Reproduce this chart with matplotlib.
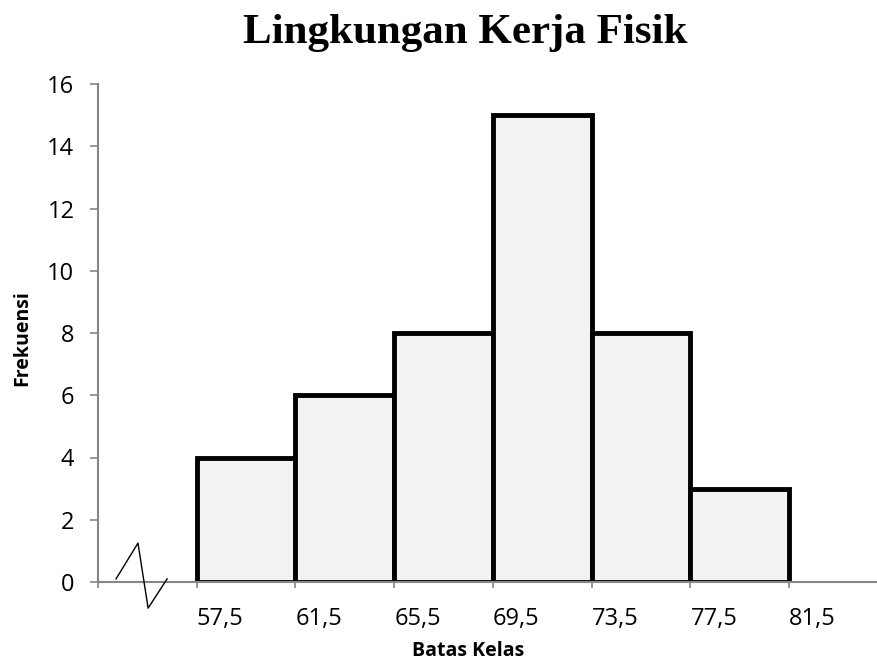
import matplotlib
matplotlib.use("Agg")
import matplotlib.pyplot as plt

# class boundaries and frequencies
batas = [57.5, 61.5, 65.5, 69.5, 73.5, 77.5, 81.5]
frekuensi = [4, 6, 8, 15, 8, 3]
batas_label = ["57,5", "61,5", "65,5", "69,5", "73,5", "77,5", "81,5"]
y_ticks = [0, 2, 4, 6, 8, 10, 12, 14, 16]

fig = plt.figure(figsize=(8.78, 6.63), dpi=100)
ax = fig.add_axes([98/878, 81/663, 780/878, 498/663])

lefts = batas[:-1]
widths = [b - a for a, b in zip(batas[:-1], batas[1:])]
ax.bar(lefts, frekuensi, width=widths, align="edge", color="#f2f2f2",
       edgecolor="black", linewidth=3.5, zorder=1)

ax.set_xlim(53.5, 85.1)
ax.set_ylim(0, 16)
ax.set_yticks(y_ticks)
ax.set_xticks([53.5] + batas)
ax.set_xticklabels([""] + batas_label, ha="left")

for s in ["top", "right"]:
    ax.spines[s].set_visible(False)
for s in ["left", "bottom"]:
    ax.spines[s].set_color("#868686")
    ax.spines[s].set_linewidth(1.5)
    ax.spines[s].set_zorder(3)

ax.tick_params(axis="y", direction="out", length=6, width=1.2, color="#868686",
               pad=11, labelsize=17, labelfontfamily="Open Sans")
ax.tick_params(axis="x", direction="out", length=4, width=1.2, color="#868686",
               pad=14, labelsize=17, labelfontfamily="Open Sans")

# axis break mark
bx = [54.23, 55.12, 55.53, 56.30]
by = [0.10, 1.25, -0.84, 0.10]
ax.plot(bx, by, color="black", linewidth=1, clip_on=False, zorder=4)

fig.text(465/878, 1 - 33/663, "Lingkungan Kerja Fisik", ha="center", va="center",
         fontsize=31, fontweight="bold", family="Liberation Serif")
fig.text(468/878, 1 - 651/663, "Batas Kelas", ha="center", va="center",
         fontsize=14, fontweight="bold", family="Open Sans")
fig.text(22/878, 1 - 338/663, "Frekuensi", ha="center", va="center", rotation=90,
         fontsize=14, fontweight="bold", family="Open Sans")

fig.savefig("out.png", dpi=100)
